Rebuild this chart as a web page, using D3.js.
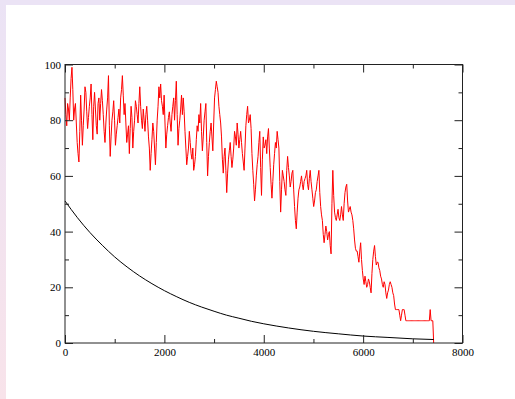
<!DOCTYPE html>
<html>
<head>
<meta charset="utf-8">
<script src="https://cdn.jsdelivr.net/npm/d3@7"></script>
<style>
  html, body { margin: 0; padding: 0; background: #ffffff; }
  svg { display: block; }
</style>
</head>
<body>
<svg id="chart" width="515" height="399"></svg>
<script>
// Noisy decaying signal, sampled every 17.5 time units
const redStep = 17.5;
const redValues = [
  88,82,78,86,84,80,88,95,99,91,80,84,86,79,72,68,65,76,89,80,71,78,84,92,90,83,77,81,85,88,93,82,73,85,90,84,78,75,86,88,
  80,86,91,87,82,76,72,79,84,88,96,78,67,74,80,83,87,80,71,75,78,81,84,79,88,91,96,89,82,86,79,72,75,78,68,77,85,81,70,76,
  80,87,85,82,79,86,92,85,80,77,84,80,76,82,85,80,74,70,62,68,73,79,76,70,64,72,80,85,92,88,93,87,85,82,89,79,70,75,78,81,
  83,79,76,82,85,88,80,87,94,82,71,77,80,84,89,82,88,83,76,70,64,67,70,76,72,68,66,70,62,64,67,73,78,76,82,79,86,76,69,74,
  80,83,86,72,60,67,72,76,79,74,69,79,88,91,94,92,90,85,82,79,74,66,61,67,70,62,54,61,66,69,72,67,63,66,70,76,74,71,79,75,
  70,73,76,72,68,65,62,70,78,82,85,79,80,82,77,68,62,57,51,55,60,64,67,72,76,63,53,66,74,70,71,73,68,74,77,70,63,57,52,58,
  64,68,72,70,76,73,70,58,47,55,62,60,58,55,53,62,67,63,60,56,58,61,62,55,49,44,41,47,52,55,56,58,60,57,55,58,59,60,62,57,
  55,59,62,58,55,52,49,51,54,55,58,60,62,54,49,46,44,39,36,39,42,40,37,39,40,35,32,50,62,53,47,45,44,46,48,45,44,46,49,46,
  44,50,54,56,57,51,47,48,49,47,46,44,41,37,34,33,33,31,29,33,36,30,26,23,21,24,22,20,21,23,22,20,18,25,30,33,35,31,28,29,
  29,27,26,24,23,21,20,22,21,18,16,18,19,21,22,21,20,18,17,14,12,12,12,12,12,10,8,10,12,12,12,10,8,8,8,8,8,8,8,8,
  8,8,8,8,8,8,8,8,8,8,8,8,8,8,8,8,8,8,8,8,12,8,8,8,0
];

// Smooth decay curve
const blackX = [0, 250, 500, 750, 1000, 1250, 1500, 1750, 2000, 2250, 2500, 2750, 3000,
                3250, 3500, 3750, 4000, 4500, 5000, 5500, 6000, 6500, 7000, 7420];
const blackY = [51, 45, 39.7, 35.1, 30.9, 27.3, 24.1, 21.3, 18.8, 16.6, 14.6, 12.9, 11.4,
                10, 8.9, 7.8, 6.9, 5.4, 4.2, 3.3, 2.5, 2.0, 1.5, 1.25];

// Axis ticks
const xMajorTicks = [0, 2000, 4000, 6000, 8000];
const xMinorTicks = [1000, 3000, 5000, 7000];
const yMajorTicks = [0, 20, 40, 60, 80, 100];
const yMinorTicks = [10, 30, 50, 70, 90];

const svg = d3.select("#chart");
const W = 515, H = 399;

// Window frame: lavender top strip, left strip fading to pink
const defs = svg.append("defs");
const grad = defs.append("linearGradient").attr("id", "leftStrip")
  .attr("x1", 0).attr("y1", 0).attr("x2", 0).attr("y2", 1);
grad.append("stop").attr("offset", "0%").attr("stop-color", "#ebe3f5");
grad.append("stop").attr("offset", "100%").attr("stop-color", "#f8e3ea");
svg.append("rect").attr("x", 0).attr("y", 0).attr("width", W).attr("height", H).attr("fill", "#ffffff");
svg.append("rect").attr("x", 0).attr("y", 0).attr("width", W).attr("height", 5).attr("fill", "#ebe3f5");
svg.append("rect").attr("x", 0).attr("y", 0).attr("width", 6).attr("height", H).attr("fill", "url(#leftStrip)");

const plotLeft = 65, plotRight = 462.5, plotTop = 64.5, plotBottom = 343;
const x = d3.scaleLinear().domain([0, 8000]).range([plotLeft, plotRight]);
const y = d3.scaleLinear().domain([0, 100]).range([plotBottom, plotTop]);

const plot = svg.append("g");

// Data lines
const redLine = d3.line()
  .x((d, i) => x(i * redStep))
  .y(d => y(d));
plot.append("path")
  .datum(redValues)
  .attr("fill", "none")
  .attr("stroke", "#ff0000")
  .attr("stroke-width", 1)
  .attr("stroke-linejoin", "round")
  .attr("d", redLine);

const blackLine = d3.line()
  .x(d => x(d[0]))
  .y(d => y(d[1]))
  .curve(d3.curveMonotoneX);
plot.append("path")
  .datum(blackX.map((v, i) => [v, blackY[i]]))
  .attr("fill", "none")
  .attr("stroke", "#000000")
  .attr("stroke-width", 1)
  .attr("d", blackLine);

// Frame with inward ticks on all four sides
const axisColor = "#222";
const majorLen = 8, minorLen = 4;
const labelFont = "'Liberation Serif', 'DejaVu Serif', serif";

function addAxis(axisGen, transform, showLabels) {
  const g = svg.append("g").attr("transform", transform).call(axisGen);
  g.attr("font-family", labelFont).attr("font-size", 11);
  g.select(".domain").remove();
  g.selectAll("line").attr("stroke", axisColor).attr("stroke-width", 1);
  g.selectAll("text").attr("fill", "#000").attr("font-family", labelFont).attr("font-size", 11);
  if (!showLabels) g.selectAll("text").remove();
  return g;
}

// bottom
addAxis(d3.axisBottom(x).tickValues(xMajorTicks).tickSize(-majorLen).tickPadding(5).tickFormat(d3.format("d")),
  `translate(0,${plotBottom})`, true);
addAxis(d3.axisBottom(x).tickValues(xMinorTicks).tickSize(-minorLen).tickFormat(""),
  `translate(0,${plotBottom})`, false);
// top
addAxis(d3.axisTop(x).tickValues(xMajorTicks).tickSize(-majorLen).tickFormat(""),
  `translate(0,${plotTop})`, false);
addAxis(d3.axisTop(x).tickValues(xMinorTicks).tickSize(-minorLen).tickFormat(""),
  `translate(0,${plotTop})`, false);
// left
addAxis(d3.axisLeft(y).tickValues(yMajorTicks).tickSize(-majorLen).tickPadding(4).tickFormat(d3.format("d")),
  `translate(${plotLeft},0)`, true);
addAxis(d3.axisLeft(y).tickValues(yMinorTicks).tickSize(-minorLen).tickFormat(""),
  `translate(${plotLeft},0)`, false);
// right
addAxis(d3.axisRight(y).tickValues(yMajorTicks).tickSize(-majorLen).tickFormat(""),
  `translate(${plotRight},0)`, false);
addAxis(d3.axisRight(y).tickValues(yMinorTicks).tickSize(-minorLen).tickFormat(""),
  `translate(${plotRight},0)`, false);

svg.append("rect")
  .attr("x", plotLeft).attr("y", plotTop)
  .attr("width", plotRight - plotLeft).attr("height", plotBottom - plotTop)
  .attr("fill", "none").attr("stroke", axisColor).attr("stroke-width", 1);
</script>
</body>
</html>
